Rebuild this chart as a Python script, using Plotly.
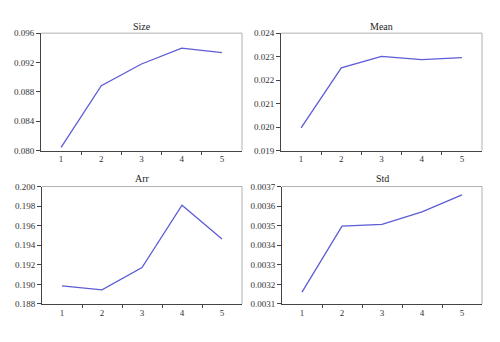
import plotly.graph_objects as go

x_vals = [1, 2, 3, 4, 5]
size_vals = [0.08044, 0.08884, 0.0918, 0.09397, 0.09335]
mean_vals = [0.01997, 0.02252, 0.02301, 0.02287, 0.02296]
arr_vals = [0.18985, 0.18945, 0.19173, 0.19809, 0.19463]
std_vals = [0.003161, 0.003498, 0.003507, 0.003571, 0.003657]

titles = ["Size", "Mean", "Arr", "Std"]
series = [size_vals, mean_vals, arr_vals, std_vals]
yranges = [[0.080, 0.096], [0.019, 0.024], [0.188, 0.200], [0.0031, 0.0037]]
ydticks = [0.004, 0.001, 0.002, 0.0001]
yformats = [".3f", ".3f", ".3f", ".4f"]

W, H = 500, 342
xdoms = [[41 / W, 242 / W], [281 / W, 482 / W], [42 / W, 242 / W], [282 / W, 482 / W]]
ydoms = [[1 - 150 / H, 1 - 29 / H], [1 - 150 / H, 1 - 29 / H],
         [1 - 308 / H, 1 - 187 / H], [1 - 308 / H, 1 - 187 / H]]
title_y = [1 - 22 / H, 1 - 22 / H, 1 - 179 / H, 1 - 179 / H]

font_family = "Liberation Serif, Times New Roman, serif"
line_color = "#5c5cd6"
axis_color = "#444444"
box_color = "#b0b0b0"

fig = go.Figure()
layout = dict(
    width=W, height=H, autosize=False,
    margin=dict(l=0, r=0, t=0, b=0),
    paper_bgcolor="white", plot_bgcolor="white",
    showlegend=False,
    font=dict(family=font_family, size=9, color="#333333"),
)
annotations = []
shapes = []
for i in range(4):
    n = "" if i == 0 else str(i + 1)
    xa, ya = "x" + n, "y" + n
    fig.add_trace(go.Scatter(x=x_vals, y=series[i], mode="lines",
                             line=dict(color=line_color, width=1.3),
                             xaxis=xa, yaxis=ya, hoverinfo="skip"))
    layout["xaxis" + n] = dict(
        domain=xdoms[i], range=[0.5, 5.5], anchor=ya,
        tickvals=x_vals, ticks="", showgrid=False, zeroline=False,
        showline=True, linecolor=axis_color, linewidth=1,
        tickfont=dict(family=font_family, size=9, color="#333333"),
        minor=dict(tickvals=[1.5, 2.5, 3.5, 4.5], ticks="outside", ticklen=3,
                   tickcolor=axis_color, showgrid=False),
    )
    layout["yaxis" + n] = dict(
        domain=ydoms[i], range=yranges[i], anchor=xa,
        dtick=ydticks[i], tick0=yranges[i][0], tickformat=yformats[i],
        ticks="outside", ticklen=4, tickcolor=axis_color,
        showgrid=False, zeroline=False,
        showline=True, linecolor=axis_color, linewidth=1,
        tickfont=dict(family=font_family, size=9, color="#333333"),
    )
    annotations.append(dict(text=titles[i], x=(xdoms[i][0] + xdoms[i][1]) / 2,
                            y=title_y[i], xref="paper", yref="paper",
                            xanchor="center", yanchor="middle", showarrow=False,
                            font=dict(family=font_family, size=10, color="#222222")))
    # top and right box lines in light gray
    shapes.append(dict(type="line", xref=xa + " domain", yref=ya + " domain",
                       x0=0, x1=1, y0=1, y1=1, line=dict(color=box_color, width=1)))
    shapes.append(dict(type="line", xref=xa + " domain", yref=ya + " domain",
                       x0=1, x1=1, y0=0, y1=1, line=dict(color=box_color, width=1)))

layout["annotations"] = annotations
layout["shapes"] = shapes
fig.update_layout(**layout)
fig.write_html("out.html")
